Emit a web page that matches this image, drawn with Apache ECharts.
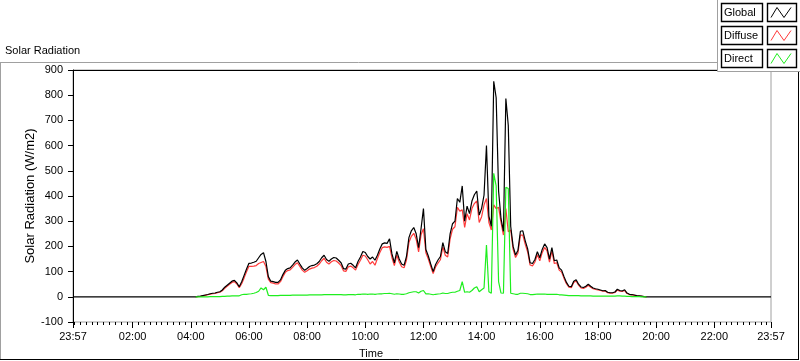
<!DOCTYPE html>
<html><head><meta charset="utf-8">
<script src="https://cdn.jsdelivr.net/npm/echarts@6/dist/echarts.min.js"></script>
<style>html,body{margin:0;padding:0;background:#fff}#c{width:800px;height:361px}</style>
</head><body><div id="c"></div>
<script>
// ---- data (5-minute readings starting at startClock) ----
const startClock = '04:10';
const stepMin = 5;
const globalVals = [
  0,2,3,5,7,9,12,14,15,18,
  20,27,38,46,54,62,65,55,40,60,85,110,
  133,134,137,141,155,168,175,140,80,62,60,57,
  57,67,88,105,112,115,126,138,146,130,115,105,
  112,120,124,126,131,140,155,165,148,141,150,156,
  154,145,135,112,110,130,133,125,115,140,158,180,
  176,160,150,158,145,165,190,210,214,212,230,170,
  135,180,150,130,125,160,235,262,275,250,195,270,
  350,188,162,130,100,128,146,160,215,179,172,250,
  290,300,390,375,440,300,360,330,380,405,420,324,
  351,404,600,320,280,855,790,420,310,260,787,680,
  280,200,166,185,260,262,222,190,135,132,148,179,
  155,188,210,195,150,195,143,146,115,106,80,57,
  42,40,62,68,50,39,37,42,50,42,35,32,
  30,27,24,25,18,16,16,19,30,25,23,28,
  15,10,9,7,5,4,3,1,0
];
const diffuseVals = [
  0,1,2,4,6,8,10,12,13,16,
  18,24,34,42,50,57,60,51,36,52,75,99,
  121,121,122,124,132,136,140,120,70,56,54,51,
  51,60,80,97,104,107,117,128,135,121,106,97,
  103,110,114,116,121,130,143,153,137,130,139,144,
  142,134,124,103,101,119,122,115,106,128,145,165,
  162,147,130,140,125,152,176,195,198,196,200,155,
  124,165,138,119,115,146,215,240,252,228,178,246,
  270,175,150,120,92,118,134,147,198,165,158,230,
  268,278,355,340,345,275,330,305,350,370,380,295,
  318,365,390,295,265,365,350,355,295,245,350,258,
  265,188,156,174,245,245,208,178,126,123,138,167,
  143,175,196,182,138,182,132,135,106,98,73,52,
  38,36,57,63,46,35,33,38,46,38,32,29,
  27,25,22,23,16,14,14,17,27,22,21,25,
  13,9,8,6,4,3,2,1,0
];
const directVals = [
  0,0,0,0,0,0,1,1,1,1,
  1,2,2,3,3,4,4,4,4,8,10,10,
  11,12,14,17,22,35,28,38,6,5,5,5,
  5,6,6,6,6,6,7,7,7,7,7,7,
  7,8,8,8,8,8,8,9,9,9,9,9,
  9,9,9,8,8,9,9,9,8,10,10,11,
  11,10,11,11,10,11,12,12,13,13,14,12,
  10,12,11,10,10,12,16,18,20,20,15,22,
  25,12,12,10,8,10,11,12,15,13,13,16,
  18,18,22,25,60,18,20,18,25,35,40,20,
  28,35,205,20,14,490,440,60,15,14,435,430,
  14,12,10,10,14,14,13,12,9,9,10,11,
  11,11,11,10,10,10,10,10,8,8,7,6,
  5,5,5,5,5,4,4,4,4,4,3,3,
  3,3,3,3,3,3,3,3,4,4,3,3,
  2,2,1,1,1,1,0,0,0
];
const xTickLabels = ['23:57','02:00','04:00','06:00','08:00','10:00','12:00','14:00','16:00','18:00','20:00','22:00','23:57'];
const seriesNames = ['Global','Diffuse','Direct'];
const seriesColors = ['#000000','#ff3a3a','#1eee1e'];

// ---- axis helpers (axis runs from 23:57 to 23:57 next day, in minutes) ----
const dayLen = 1440;
const offsetMin = 3; // minutes from 23:57 to 00:00
function clockToMin(s){ const p = s.split(':').map(Number); return p[0]*60 + p[1]; }
const start = clockToMin(startClock) + offsetMin;
const toPairs = vals => vals.map((v,i) => [start + i*stepMin, v]);
const globalData = [[0,0]].concat(toPairs(globalVals), [[dayLen,0]]);
const diffuseData = toPairs(diffuseVals);
const directData = toPairs(directVals);
const tickPos = xTickLabels.map((l,i) => i===0 ? 0 : (i===xTickLabels.length-1 ? dayLen : clockToMin(l)+offsetMin));
const minorPos = [];
for (let t = offsetMin; t <= dayLen; t += 12) minorPos.push(t);

const FONT = '"Liberation Sans", Arial, sans-serif';
const txt = {color:'#000', fontSize:11, fontFamily:FONT};

// legend drawn as graphic (LabVIEW style plot legend)
const legendEls = [{
  type:'rect', z:100, shape:{x:717.5,y:-1,width:84,height:72.5},
  style:{fill:'#fff', stroke:'#a0a0a0', lineWidth:1}
}];
seriesNames.forEach((n,i) => {
  const y0 = 3.5 + i*23;
  legendEls.push({type:'rect', z:101, shape:{x:721.5,y:y0,width:41,height:18}, style:{fill:'#fff',stroke:'#000',lineWidth:1.4}});
  legendEls.push({type:'rect', z:101, shape:{x:767.5,y:y0,width:29,height:18}, style:{fill:'#fff',stroke:'#000',lineWidth:1.4}});
  legendEls.push({type:'text', z:102, x:724, y:y0+9.5, style:{text:n, fill:'#000', font:'11px '+FONT, verticalAlign:'middle', align:'left'}});
  legendEls.push({type:'polyline', z:102, shape:{points:[[771,y0+14],[777,y0+4],[784,y0+14],[791,y0+4]]}, style:{stroke:seriesColors[i], lineWidth:1, fill:null}});
});

const chart = echarts.init(document.getElementById('c'), null, {renderer:'canvas'});
chart.setOption({
  animation:false,
  backgroundColor:'#fff',
  textStyle:{fontFamily:FONT},
  title:{text:'Solar Radiation', left:5, top:45, padding:0, textStyle:{fontSize:11, fontWeight:'normal', color:'#000', fontFamily:FONT}},
  grid:{left:73, right:29, top:70, bottom:39, show:true, borderColor:'#a0a0a0', borderWidth:1, backgroundColor:'#fff'},
  xAxis:[
    {type:'value', min:0, max:dayLen, position:'bottom',
     axisLine:{show:false, onZero:false}, splitLine:{show:false},
     axisTick:{show:true, customValues:tickPos, length:6, lineStyle:{color:'#000'}},
     axisLabel:{customValues:tickPos, margin:9, ...txt,
       formatter:v => { const i = tickPos.indexOf(Math.round(v)); return i>=0 ? xTickLabels[i] : ''; }}},
    {type:'value', min:0, max:dayLen, position:'bottom',
     axisLine:{show:false, onZero:false}, splitLine:{show:false},
     axisTick:{show:true, customValues:minorPos, length:3, lineStyle:{color:'#000'}},
     axisLabel:{show:false}},
    {type:'value', min:0, max:dayLen, position:'top',
     axisLine:{show:true, onZero:false, lineStyle:{color:'#000'}},
     axisTick:{show:false}, axisLabel:{show:false}, splitLine:{show:false}}
  ],
  yAxis:{type:'value', min:-100, max:900, interval:100,
    name:'Solar Radiation (W/m2)', nameLocation:'middle', nameGap:36, nameMoveOverlap:false,
    nameTextStyle:{...txt, fontSize:13},
    axisLine:{show:true, onZero:false, lineStyle:{color:'#000'}},
    axisTick:{show:true, length:5, lineStyle:{color:'#000'}},
    axisLabel:{margin:10, ...txt}, splitLine:{show:false}},
  series:[
    {name:seriesNames[1], type:'line', data:diffuseData, showSymbol:false, lineStyle:{width:1.2, color:seriesColors[1]}, itemStyle:{color:seriesColors[1]}, z:2},
    {name:seriesNames[0], type:'line', data:globalData, showSymbol:false, lineStyle:{width:1.2, color:seriesColors[0]}, itemStyle:{color:seriesColors[0]}, z:3},
    {name:seriesNames[2], type:'line', data:directData, showSymbol:false, lineStyle:{width:1.2, color:seriesColors[2]}, itemStyle:{color:seriesColors[2]}, z:4}
  ],
  graphic:[
    {type:'line', z:50, shape:{x1:0,y1:62.5,x2:717,y2:62.5}, style:{stroke:'#a0a0a0', lineWidth:1}},
    {type:'line', z:50, shape:{x1:0.5,y1:62,x2:0.5,y2:360}, style:{stroke:'#a0a0a0', lineWidth:1}},
    {type:'line', z:50, shape:{x1:0,y1:359.5,x2:799,y2:359.5}, style:{stroke:'#000', lineWidth:1}},
    {type:'line', z:50, shape:{x1:798.5,y1:71,x2:798.5,y2:360}, style:{stroke:'#000', lineWidth:1}},
    {type:'text', z:50, x:371, y:353.5, style:{text:'Time', fill:'#000', font:'11px '+FONT, align:'center', verticalAlign:'middle'}}
  ].concat(legendEls)
});
</script></body></html>
